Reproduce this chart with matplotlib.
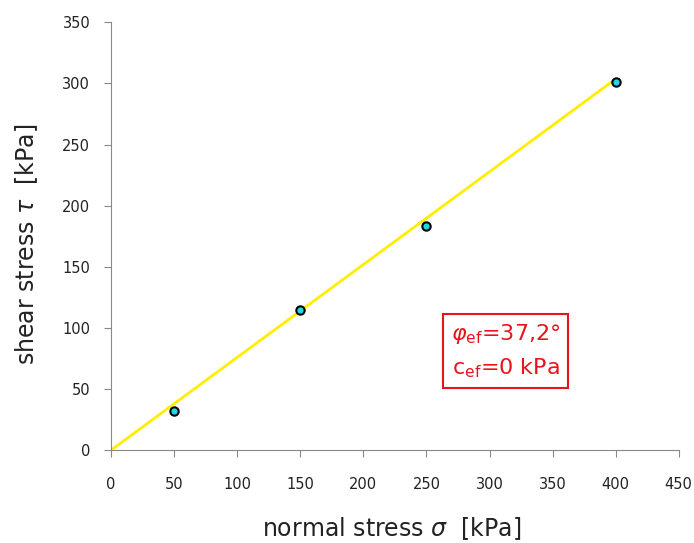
import numpy as np
import matplotlib.pyplot as plt

# shear box test results
normal_stress = [50, 150, 250, 400]
shear_stress = [32, 115, 183, 301]
phi_ef = 37.2
c_ef = 0

x_ticks = [0, 50, 100, 150, 200, 250, 300, 350, 400, 450]
y_ticks = [0, 50, 100, 150, 200, 250, 300, 350]

fig = plt.figure(figsize=(6.94, 5.43), dpi=100)
ax = fig.add_axes([0.16, 0.171, 0.818, 0.788])

# failure envelope
xs = np.array([0, max(normal_stress)])
ax.plot(xs, c_ef + xs * np.tan(np.radians(phi_ef)), color='#ffee00', lw=2, zorder=2)
ax.plot(normal_stress, shear_stress, 'o', ms=6, mfc='#22d8e8', mec='black', mew=1.5, zorder=3)

ax.set_xlim(0, 450)
ax.set_ylim(0, 350)
ax.set_xticks(x_ticks)
ax.set_yticks(y_ticks)
for side in ['top', 'right']:
    ax.spines[side].set_visible(False)
for side in ['left', 'bottom']:
    ax.spines[side].set_color('#888888')
ax.tick_params(direction='out', length=5, color='#888888', labelsize=10.5, labelcolor='#222222')
ax.tick_params(axis='x', pad=14)
ax.tick_params(axis='y', pad=10)

ax.set_xlabel(r'normal stress $\sigma$  [kPa]', fontsize=17, color='#222222')
ax.set_ylabel(r'shear stress $\tau$  [kPa]', fontsize=17, color='#222222')
ax.xaxis.set_label_coords(0.495, -0.152)
ax.yaxis.set_label_coords(-0.125, 0.48)

ax.text(0.695, 0.232,
        r'$\varphi_{\mathrm{ef}}$=37,2°' + '\n' + r'c$_{\mathrm{ef}}$=0 kPa',
        transform=ax.transAxes, ha='center', va='center', fontsize=16, color='#e8141c',
        linespacing=1.6,
        bbox=dict(boxstyle='square,pad=0.35', fc='white', ec='#e8141c', lw=1.5))

fig.savefig('out.png', dpi=100)
